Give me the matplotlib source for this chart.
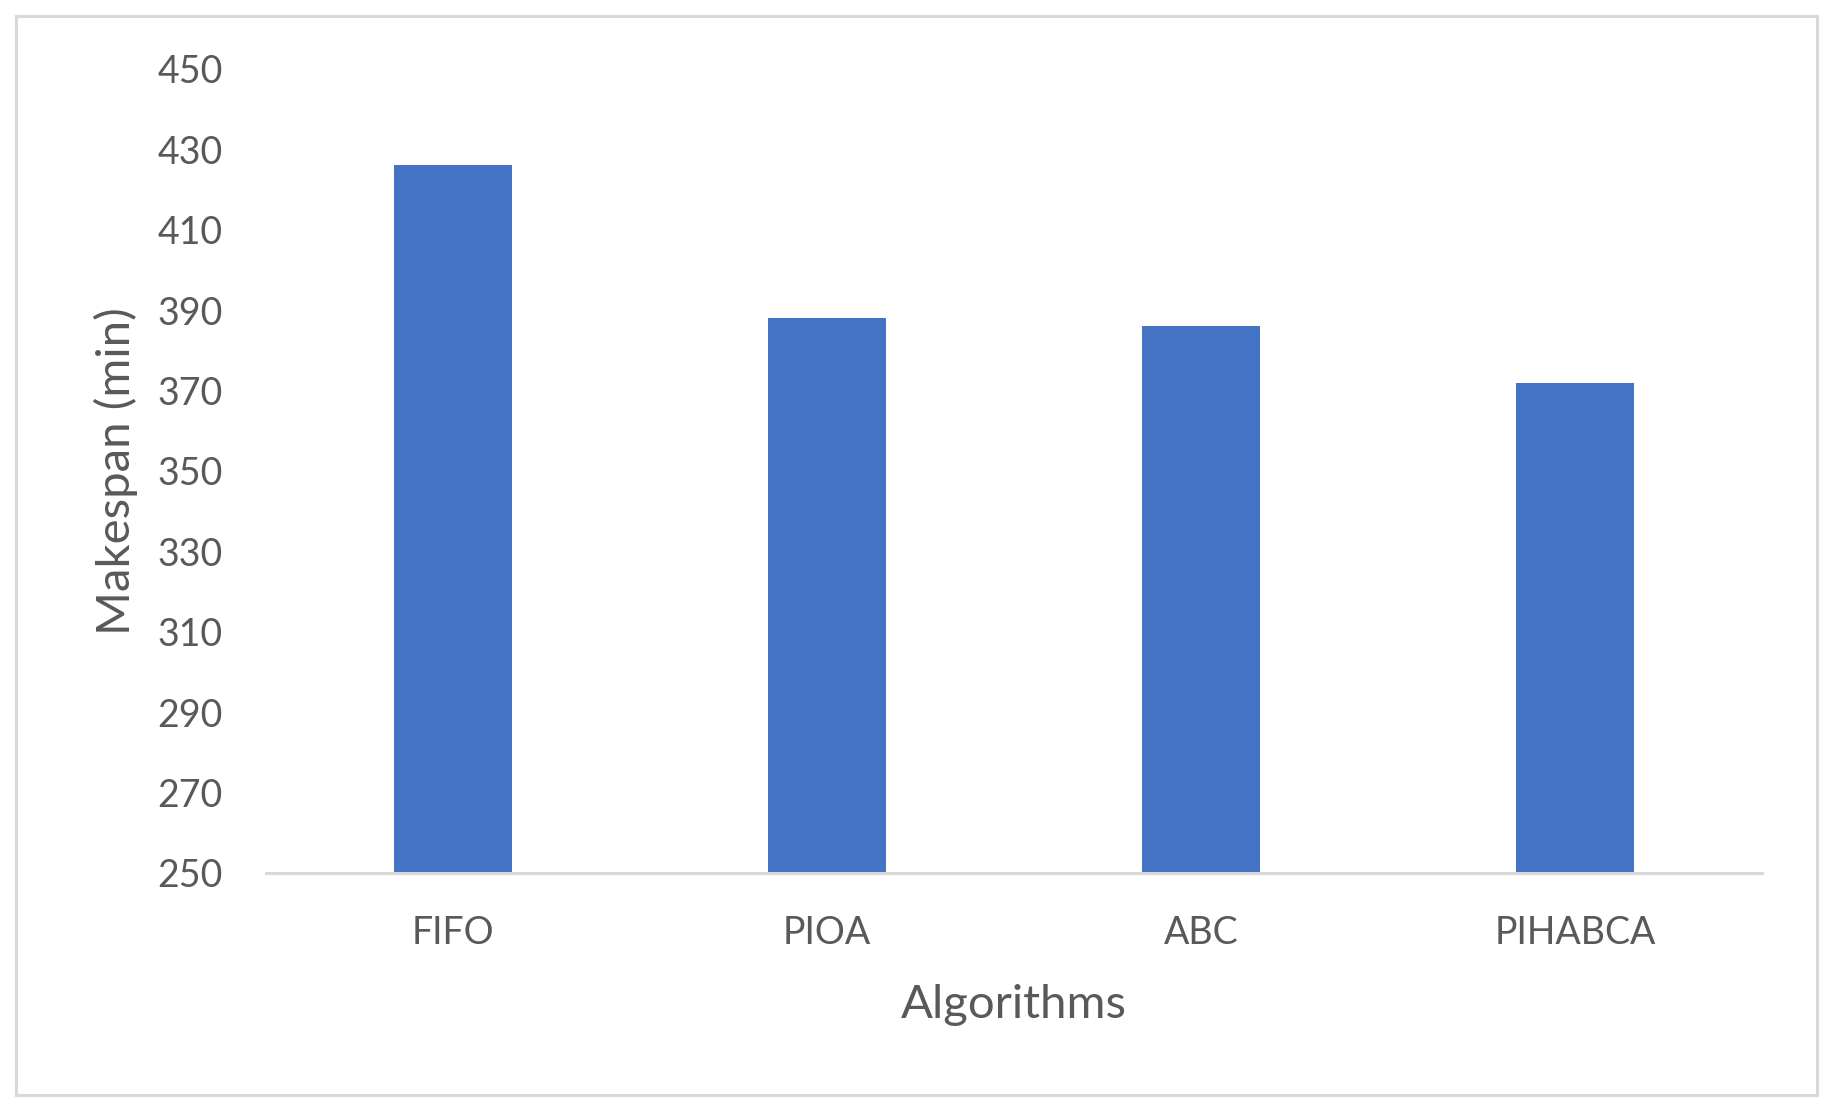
import matplotlib as mpl
import matplotlib.pyplot as plt
from matplotlib.patches import Rectangle

mpl.rcParams['font.family'] = ['Lato', 'DejaVu Sans']

algorithms = ['FIFO', 'PIOA', 'ABC', 'PIHABCA']
makespan = [426, 388, 386, 372]
y_ticks = list(range(250, 451, 20))

BAR_COLOR = '#4472C4'
TEXT_COLOR = '#595959'
LINE_COLOR = '#D9D9D9'

W, H = 1834, 1112
fig = plt.figure(figsize=(W / 100, H / 100), dpi=100)

# outer chart frame
fig.patches.append(Rectangle((16 / W, 1 - 1095 / H), (1817 - 16) / W, (1095 - 16) / H,
                             transform=fig.transFigure, fill=False,
                             edgecolor=LINE_COLOR, linewidth=2.2))

ax = fig.add_axes([266 / W, 1 - 873 / H, (1762 - 266) / W, (873 - 69) / H])
ax.bar(range(len(algorithms)), makespan, width=0.313, color=BAR_COLOR, zorder=2)

ax.set_xlim(-0.5, len(algorithms) - 0.5)
ax.set_ylim(250, 450)
ax.set_yticks(y_ticks)
ax.set_xticks(range(len(algorithms)))
ax.set_xticklabels(algorithms)

for side in ['top', 'right', 'left']:
    ax.spines[side].set_visible(False)
ax.spines['bottom'].set_color(LINE_COLOR)
ax.spines['bottom'].set_linewidth(2.2)

ax.tick_params(axis='both', length=0, labelsize=27, colors=TEXT_COLOR)
ax.tick_params(axis='y', pad=31)
ax.tick_params(axis='x', pad=30)

ax.set_xlabel('Algorithms', fontsize=34, color=TEXT_COLOR, labelpad=24)
ax.set_ylabel('Makespan (min)', fontsize=34, color=TEXT_COLOR, labelpad=14)

fig.savefig('out.png', dpi=100)
